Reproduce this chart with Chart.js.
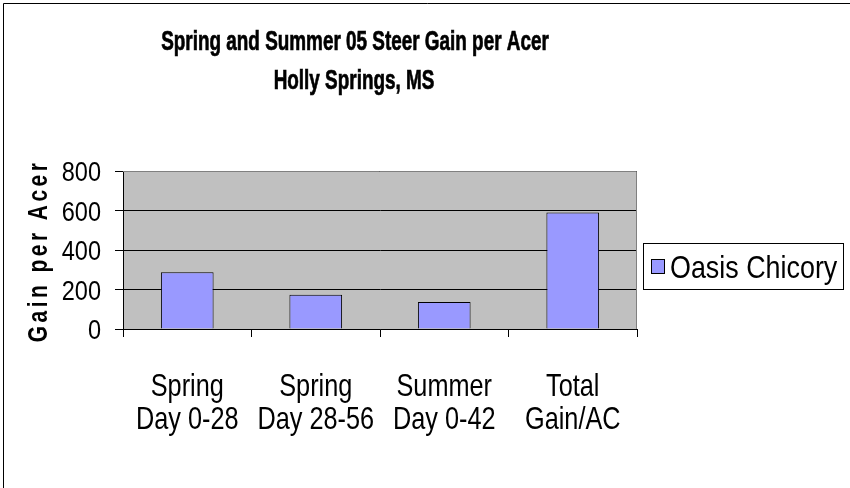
<!DOCTYPE html>
<html>
<head>
<meta charset="utf-8">
<script src="https://cdn.jsdelivr.net/npm/chart.js@4/dist/chart.umd.min.js"></script>
<style>
html,body{margin:0;padding:0;background:#fff;}
#wrap{width:850px;height:488px;position:relative;}
</style>
</head>
<body>
<div id="wrap"><canvas id="c" width="850" height="488"></canvas></div>
<script>
const categories = [["Spring","Day 0-28"],["Spring","Day 28-56"],["Summer","Day 0-42"],["Total","Gain/AC"]];
const seriesName = "Oasis Chicory";
const seriesValues = [287, 173, 137, 590];
const yTicks = [0, 200, 400, 600, 800];
const titleLines = ["Spring and Summer 05 Steer Gain per Acer", "Holly Springs, MS"];
const yAxisTitle = "Gain per Acer";

const FONT = "'Liberation Sans', Arial, sans-serif";
const barColor = "#9999ff";

function drawText(ctx, text, x, y, size, bold, sx, align, stroke) {
  ctx.save();
  ctx.font = (bold ? "bold " : "") + size + "px " + FONT;
  ctx.textBaseline = 'alphabetic';
  ctx.textAlign = 'left';
  const w = ctx.measureText(text).width * sx;
  let x0 = x;
  if (align === 'center') x0 = x - w / 2;
  else if (align === 'right') x0 = x - w;
  ctx.translate(x0, y);
  ctx.scale(sx, 1);
  ctx.fillStyle = '#000';
  ctx.fillText(text, 0, 0);
  if (stroke) {
    ctx.strokeStyle = '#000';
    ctx.lineWidth = stroke;
    ctx.strokeText(text, 0, 0);
  }
  ctx.restore();
}

const decor = {
  id: 'decor',
  beforeDraw(chart) {
    const {ctx, chartArea: a} = chart;
    ctx.save();
    ctx.fillStyle = '#c0c0c0';
    ctx.fillRect(a.left, a.top, a.right - a.left, a.bottom - a.top);
    ctx.restore();
  },
  afterDraw(chart) {
    const {ctx, chartArea: a} = chart;
    const xs = chart.scales.x, ys = chart.scales.y;
    ctx.save();
    // outer border
    ctx.strokeStyle = '#000';
    ctx.lineWidth = 1;
    ctx.beginPath();
    ctx.moveTo(3.5, 600); ctx.lineTo(3.5, 3.5); ctx.lineTo(900, 3.5);
    ctx.stroke();
    // plot border top/right gray
    ctx.strokeStyle = '#808080';
    ctx.beginPath();
    ctx.moveTo(a.left, a.top + 0.5); ctx.lineTo(a.right - 0.5, a.top + 0.5); ctx.lineTo(a.right - 0.5, a.bottom);
    ctx.stroke();
    // title
    drawText(ctx, titleLines[0], 355, 50, 27, true, 0.7, 'center', 0.7);
    drawText(ctx, titleLines[1], 354, 89, 27, true, 0.7, 'center', 0.7);
    // y ticks labels
    yTicks.forEach(v => {
      drawText(ctx, String(v), 101, ys.getPixelForValue(v) + 10, 28, false, 0.84, 'right');
    });
    // x labels
    categories.forEach((lines, i) => {
      const cx = xs.getPixelForTick(i);
      drawText(ctx, lines[0], cx, 396, 32, false, 0.79, 'center');
      drawText(ctx, lines[1], cx, 429, 32, false, 0.79, 'center');
    });
    // y axis title
    ctx.save();
    ctx.translate(39, 251);
    ctx.rotate(-Math.PI / 2);
    ctx.scale(0.75, 1);
    ctx.font = "bold 28px " + FONT;
    try { ctx.letterSpacing = '4.6px'; } catch (e) {}
    ctx.textAlign = 'center';
    ctx.textBaseline = 'middle';
    ctx.fillStyle = '#000';
    ctx.fillText(yAxisTitle, 0, 0);
    ctx.restore();
    // legend
    const lx = 643, ly = 243, lw = 200, lh = 46;
    ctx.fillStyle = '#fff';
    ctx.fillRect(lx, ly, lw, lh);
    ctx.strokeStyle = '#000';
    ctx.strokeRect(lx + 0.5, ly + 0.5, lw, lh);
    ctx.fillStyle = barColor;
    ctx.fillRect(651, 259, 13, 14);
    ctx.strokeRect(651.5, 259.5, 13, 14);
    drawText(ctx, seriesName, 670, 278, 32, false, 0.84, 'left');
    ctx.restore();
  }
};

new Chart(document.getElementById('c'), {
  type: 'bar',
  data: {
    labels: categories,
    datasets: [{
      label: seriesName,
      data: seriesValues,
      backgroundColor: barColor,
      borderColor: '#000',
      borderWidth: 1,
      categoryPercentage: 1.0,
      barPercentage: 0.41
    }]
  },
  options: {
    responsive: false,
    animation: false,
    devicePixelRatio: 1,
    layout: { padding: { left: 0, top: 171, right: 213, bottom: 0 } },
    plugins: { legend: { display: false }, tooltip: { enabled: false }, title: { display: false } },
    scales: {
      x: {
        afterFit(s) { s.height = 159; },
        grid: { display: true, drawOnChartArea: false, drawTicks: true, tickLength: 8, color: '#000', offset: true },
        border: { display: true, color: '#000', width: 1 },
        ticks: { display: false, autoSkip: false, maxRotation: 0 },
      },
      y: {
        min: 0, max: 800,
        afterFit(s) { s.width = 123; },
        afterBuildTicks(s) { s.ticks = yTicks.map(v => ({ value: v })); },
        grid: { color: '#000', tickLength: 8, drawTicks: true },
        border: { display: true, color: '#000', width: 1 },
        ticks: { display: false }
      }
    }
  },
  plugins: [decor]
});
</script>
</body>
</html>
